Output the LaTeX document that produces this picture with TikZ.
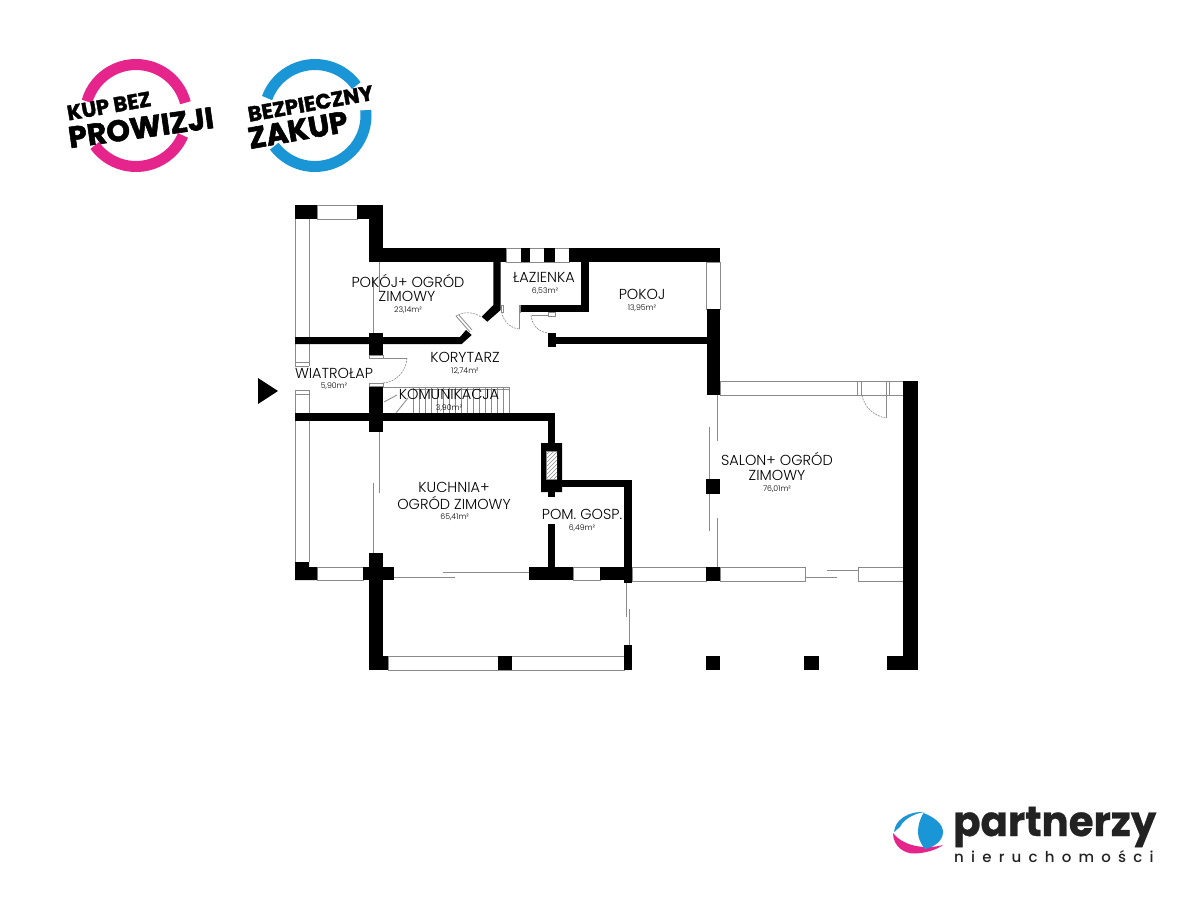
\documentclass[tikz,border=0pt]{standalone}
\usepackage{fontspec}
\setmainfont{Poppins}[UprightFont=* Light]
\newfontfamily\heavy{Poppins}[UprightFont=* Bold,FakeBold=1.8]
\newfontfamily\brand{Poppins}[UprightFont=* Bold,FakeBold=0.6]
\newfontfamily\brandsp{Poppins}[UprightFont=* Medium,LetterSpace=48]
\definecolor{pinkc}{HTML}{E6258C}
\definecolor{bluec}{HTML}{1A96D6}
\definecolor{gl}{HTML}{8A8A8A}
\definecolor{dk}{HTML}{222222}
\tikzset{
  wallfill/.style={fill=black},
  glass/.style={draw=gl,line width=0.8pt},
  doorarc/.style={draw=gl,line width=0.6pt,dash pattern=on 2pt off 1pt},
  roomlab/.style={inner sep=0,font=\fontsize{14.5}{14.5}\selectfont,text=black},
  arealab/.style={inner sep=0,font=\fontsize{7.8}{7.8}\selectfont,text=black},
  ring/.style={line width=11pt},
  stamp/.style={inner sep=0,font=\heavy,text=black}
}
\newcommand\wl[4]{\fill[wallfill] (#1,#2) rectangle (#3,#4);}
\newcommand\wn[4]{\draw[glass,fill=white] (#1,#2) rectangle (#3,#4);}
\newcommand\gline[4]{\draw[glass] (#1,#2) -- (#3,#4);}
\begin{document}
\begin{tikzpicture}[x=1pt,y=-1pt]
\useasboundingbox (0,0) rectangle (1200,900);
\fill[white] (0,0) rectangle (1200,900);
% stamps
\draw[ring,pinkc] (136,115.5) ++(-164:51) arc[start angle=-164,end angle=-14.5,radius=51];
\draw[ring,pinkc] (136,115.5) ++(144:51) arc[start angle=144,end angle=23,radius=51];
\draw[ring,bluec] (315,115.5) ++(-160:51) arc[start angle=-160,end angle=-36,radius=51];
\draw[ring,bluec] (315,115.5) ++(-6:51) arc[start angle=-6,end angle=143,radius=51];
\node[stamp,rotate=10,font=\heavy\fontsize{21}{21}\selectfont] (kup) at (109,106) {KUP BEZ};
\node[stamp,rotate=8,font=\heavy\fontsize{30}{30}\selectfont] (prow) at (141,127.5) {PROWIZJI};
\node[stamp,rotate=10,font=\heavy\fontsize{21}{21}\selectfont] (bezp) at (310.5,103.5) {BEZPIECZNY};
\node[stamp,rotate=10,font=\heavy\fontsize{30}{30}\selectfont] (zak) at (298,130) {ZAKUP};
% entry arrow
\fill[black] (258,378) -- (278,391) -- (258,404) -- cycle;
% left glazing strip
\gline{295}{219}{295}{337}\gline{309}{219}{309}{337}
\gline{295}{344}{295}{366}\gline{309}{344}{309}{366}
\gline{295}{362}{309}{362}\gline{295}{366}{309}{366}
\gline{295}{390}{309}{390}\gline{295}{394}{309}{394}
\gline{295}{390}{295}{413}\gline{309}{390}{309}{413}
\gline{295}{421}{295}{562}\gline{309}{421}{309}{562}
% windows
\wn{317}{205}{357}{219}
\wn{506}{248}{569}{262}
\wn{706.5}{262}{720}{309}
\wn{720}{381}{903}{395}
\gline{857}{381}{857}{395}\gline{861}{381}{861}{395}
\gline{886}{381}{886}{395}\gline{889}{381}{889}{395}
\wn{317}{567}{363}{580}
\wn{573}{567}{600}{580}
\wn{632}{567}{706}{581}
\wn{720}{567}{805}{581}
\wn{858}{567}{903}{581}
\wn{388}{656}{624}{670}
% thin sliding lines
\gline{379}{262}{379}{292}\gline{373}{278}{373}{333}
\gline{379}{432}{379}{493}\gline{373}{483}{373}{553}
\gline{394}{577}{455}{577}\gline{443}{572}{529}{572}
\gline{626}{583}{626}{617}\gline{629}{609}{629}{645}
\gline{717}{395}{717}{441}\gline{709}{427}{709}{479}
\gline{709}{494}{709}{531}\gline{717}{518}{717}{567}
\gline{805}{577}{837}{577}\gline{827}{570}{858}{570}
% stairs
\gline{383}{387}{510}{387}\gline{413}{389}{510}{389}
\foreach \i in {0,...,16}{\draw[draw=gl,line width=0.4pt] ({413+6*\i},387) -- ({413+6*\i},413);}
\gline{384}{402}{397}{395}\gline{396}{413}{408}{398}
% walls
\wl{295}{205}{317}{219}
\wl{357}{205}{383}{219}
\wl{369}{205}{383}{262}
\wl{369}{248}{506}{262}
\wl{521}{248}{530}{262}
\wl{544}{248}{555}{262}
\wl{569}{248}{720}{262}
\wl{581}{262}{589}{312}
\wl{520}{305}{589}{312}
\wl{706.5}{309}{720}{395}
\wl{548}{337}{707}{344}
\wl{548}{333}{556}{347}
\fill[wallfill] (493.3,260) -- (500.7,260) -- (500.7,310) -- (487.3,321.7) -- (481.7,316.7) -- (493.3,305) -- cycle;
\fill[wallfill] (295,337) -- (460,337) -- (466,330) -- (471.7,335) -- (461.7,344) -- (295,344) -- cycle;
\wl{369}{333}{383}{355}
\wl{369}{386}{383}{432}
\wl{295}{413}{555}{421}
\wl{548}{413}{555}{443}
\fill[wallfill,even odd rule] (541,443) rectangle (562,492) (546,451) rectangle (557,479);
\begin{scope}
\clip (546,451) rectangle (557,479);
\foreach \i in {0,...,9}{\draw[draw=gl,line width=0.5pt] (546,{455+4*\i}) -- (557,{444+4*\i});}
\draw[gl,line width=0.5pt] (546,451) rectangle (557,479);
\end{scope}
\wl{548}{492}{555}{497}
\wl{548}{524}{555}{567}
\wl{529}{567}{573}{580}
\wl{600}{567}{632}{580}
\wl{624}{480}{632}{583}
\wl{562}{480}{632}{487}
\fill[wallfill] (295,562) -- (309,562) -- (309,567) -- (317,567) -- (317,580) -- (295,580) -- cycle;
\wl{369}{553}{383}{670}
\wl{363}{567}{394}{580}
\wl{369}{656}{388}{670}
\wl{498}{656}{512}{670}
\wl{624}{645}{632}{670}
\wl{903}{381}{918}{670}
\wl{887}{656}{918}{670}
\wl{706}{656}{720}{670}
\wl{804}{656}{819}{670}
\wl{706}{479}{720}{494}
\wl{706}{567}{720}{581}
% doors
\draw[glass,fill=white] (369,355) rectangle (383,358);
\draw[glass,fill=white] (369,383) rectangle (383,386);
\gline{383}{358}{407}{358}
\draw[doorarc] (407,358) .. controls (406,372) and (396,382) .. (383,383);
\draw[glass,fill=white] (548,312) rectangle (555,316);
\gline{532}{315}{548}{315}
\draw[doorarc] (531,315) .. controls (532,325) and (538,332) .. (548,333);
\draw[glass,fill=white] (501,305) rectangle (503,312);
\draw[glass,fill=white] (519,305) rectangle (520,312);
\gline{519.5}{305}{519.5}{329}
\draw[doorarc] (519,329) .. controls (510,328) and (503,321) .. (501.7,312);
\gline{456}{316}{470}{332}\gline{458.5}{314.5}{472}{330}
\draw[doorarc] (456,316) .. controls (462,312) and (473,311) .. (481,317);
\draw[doorarc] (862,395) .. controls (864,407) and (874,416) .. (886,418);
\gline{886}{395}{886}{418}
% labels
\node[roomlab] (r1a) at (408,281) {POKÓJ+ OGRÓD};
\node[roomlab] (r1b) at (407,296) {ZIMOWY};
\node[arealab] (r1c) at (408,310) {23,14m²};
\node[roomlab] (r2a) at (334,373) {WIATROŁAP};
\node[arealab] (r2c) at (334,386) {5,90m²};
\node[roomlab] (r3a) at (465,357) {KORYTARZ};
\node[arealab] (r3c) at (465,371) {12,74m²};
\node[roomlab] (r4a) at (449,394) {KOMUNIKACJA};
\node[arealab] (r4c) at (449,408) {3,90m²};
\node[roomlab] (r5a) at (544,277) {ŁAZIENKA};
\node[arealab] (r5c) at (545,291) {6,53m²};
\node[roomlab] (r6a) at (642,294) {POKOJ};
\node[arealab] (r6c) at (642,308) {13,95m²};
\node[roomlab] (r7a) at (454,487) {KUCHNIA+};
\node[roomlab] (r7b) at (454,503) {OGRÓD ZIMOWY};
\node[arealab] (r7c) at (454.7,517) {65,41m²};
\node[roomlab] (r8a) at (582,514) {POM. GOSP.};
\node[arealab] (r8c) at (582,528) {6,49m²};
\node[roomlab] (r9a) at (777,459) {SALON+ OGRÓD};
\node[roomlab] (r9b) at (777,475) {ZIMOWY};
\node[arealab] (r9c) at (777,489) {76,01m²};
% brand logo
\fill[pinkc] (893,833) .. controls (893,846) and (904,854) .. (915,853.5) .. controls (926,853) and (936,850) .. (943,845) .. controls (928,849) and (905,848) .. (893,833) -- cycle;
\fill[bluec] (894,832) .. controls (895,820) and (908,811) .. (925,812) .. controls (914,813) and (903,820) .. (900,827) -- cycle;
\fill[bluec] (923.5,813) .. controls (934,817) and (943,824) .. (943,832) .. controls (943,841) and (934,847) .. (925,849) .. controls (920,843) and (918,837) .. (918,832) .. controls (918,825) and (920,819) .. (923.5,813) -- cycle;
\node[inner sep=0,anchor=base west,xscale=0.96,font=\brand\fontsize{42}{42}\selectfont,text=dk] (pn) at (953,836) {partnerzy};
\node[inner sep=0,anchor=base west,font=\brandsp\fontsize{15}{15}\selectfont,text=dk] (nr) at (954,862) {nieruchomości};
\end{tikzpicture}
\end{document}
